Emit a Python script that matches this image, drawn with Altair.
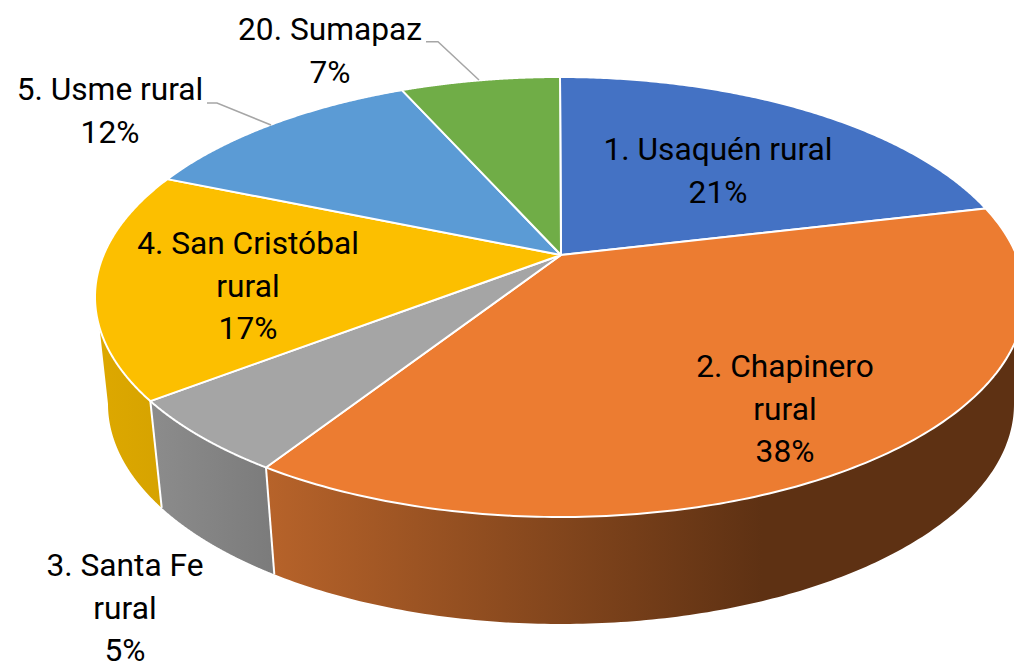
import math
import altair as alt

# ---- chart values ----
names = ["1. Usaquén rural", "2. Chapinero\nrural", "3. Santa Fe\nrural",
         "4. San Cristóbal\nrural", "5. Usme rural", "20. Sumapaz"]
shown = ["21%", "38%", "5%", "17%", "12%", "7%"]
shares = [21.3, 37.8, 5.49, 16.7, 12.05, 6.66]
top_colors = ["#4472C4", "#EC7C31", "#A5A5A5", "#FCBF00", "#5B9BD5", "#70AD47"]

# ---- layout of the tilted pie, in picture pixels ----
CX, CY, RX, RY = 560.0, 297.0, 465.0, 220.0     # rim of the top face
AX, AY = 561.0, 255.0                            # apex of the slices
LX, LY, LRX, LRY = 561.0, 404.0, 453.0, 220.0    # rim of the base
VX, VY = 561.0, 4250.0                           # vanishing point of the wall
K = 0.825                                        # perspective compression
SIL_RIGHT, SIL_LEFT = 100.0, 262.0               # silhouette angles, top rim
SIL_LOW_RIGHT, SIL_LOW_LEFT = 90.0, 270.0        # silhouette angles, base rim

label_pos = {0: (718, 150), 1: (785, 367), 2: (125, 566),
             3: (248, 244), 4: (110, 90), 5: (330, 30)}
leaders = [[(426, 41.7), (438, 41.7), (479, 80)],
           [(207, 103), (217, 103), (271, 125)]]


def persp(theta):
    h = math.radians(theta) / 2
    return math.degrees(2 * math.atan2(K * math.sin(h), math.cos(h)))


def top_pt(phi):
    a = math.radians(phi)
    return (CX + RX * math.sin(a), CY - RY * math.cos(a))


def base_pt(psi):
    a = math.radians(psi)
    return (LX + LRX * math.sin(a), LY - LRY * math.cos(a))


def low_pt(phi):
    px, py = top_pt(phi)
    dx, dy = VX - px, VY - py
    ex, ey = (px - LX) / LRX, (py - LY) / LRY
    fx, fy = dx / LRX, dy / LRY
    a = fx * fx + fy * fy
    b = 2 * (ex * fx + ey * fy)
    c = ex * ex + ey * ey - 1
    t = (-b + math.sqrt(max(b * b - 4 * a * c, 0))) / (2 * a)
    return (px + t * dx, py + t * dy)


def base_angle(phi):
    x, y = low_pt(phi)
    return math.degrees(math.atan2((x - LX) / LRX, -(y - LY) / LRY)) % 360


def arc(fn, a0, a1, n=160):
    return [list(fn(a0 + (a1 - a0) * i / n)) for i in range(n + 1)]


def poly(points, **props):
    return {"type": "Feature", "properties": props,
            "geometry": {"type": "Polygon", "coordinates": [points + [points[0]]]}}


def line(points, **props):
    return {"type": "Feature", "properties": props,
            "geometry": {"type": "LineString", "coordinates": [list(p) for p in points]}}


def wall(a0, a1, b0, b1):
    return poly(arc(top_pt, a0, a1) + arc(base_pt, b1, b0))


def collection(features):
    return alt.InlineData(values={"type": "FeatureCollection", "features": features},
                          format=alt.DataFormat(property="features"))


# slice boundaries
edges = [0.0]
for s in shares:
    edges.append(edges[-1] + s)
total = edges[-1]
angles = [persp(360.0 * e / total) for e in edges]
angles[-1] = 360.0

top_faces = [
    poly([[AX, AY]] + arc(top_pt, angles[i], angles[i + 1]), fill=top_colors[i])
    for i in range(len(shares))
]
# picture pixels become chart pixels by removing the page margin; the two
# precisions differ so each layer keeps this exact mapping instead of a merged, fitted one
proj = dict(type="identity", scale=1, translate=[-8, -8])
proj_labels = dict(type="identity", scale=1, translate=[-8, -8], precision=0.5)


def grad(stops):
    return alt.Gradient(gradient="linear", x1=0, x2=1, y1=0, y2=0,
                        stops=[alt.GradientStop(offset=o, color=c) for o, c in stops])


def wall_layer(feature, stops):
    return alt.Chart(collection([feature])).mark_geoshape(
        fill=grad(stops), strokeWidth=0, stroke="transparent").project(**proj)


wall_orange = wall_layer(wall(SIL_RIGHT, angles[2], SIL_LOW_RIGHT, base_angle(angles[2])),
                         [(0, "#B7632A"), (0.66, "#5E3113"), (1, "#5E3113")])
wall_gray = wall_layer(wall(angles[2], angles[3], base_angle(angles[2]), base_angle(angles[3])),
                       [(0, "#8C8C8C"), (1, "#7B7B7B")])
wall_yellow = wall_layer(wall(angles[3], SIL_LEFT, base_angle(angles[3]), SIL_LOW_LEFT),
                         [(0, "#DDA800"), (1, "#D6A300")])

seams = alt.Chart(collection([
    line([top_pt(angles[2]), low_pt(angles[2])]),
    line([top_pt(angles[3]), low_pt(angles[3])]),
])).mark_geoshape(filled=False, stroke="white", strokeWidth=2).project(**proj)

faces = alt.Chart(collection(top_faces)).mark_geoshape(
    stroke="white", strokeWidth=2, strokeJoin="round"
).encode(fill=alt.Fill("properties.fill:N", scale=None)).project(**proj)

leader_lines = alt.Chart(collection([line(l) for l in leaders])).mark_geoshape(
    filled=False, stroke="#A6A6A6", strokeWidth=1.5).project(**proj)

label_rows = [
    {"label": names[i] + "\n" + shown[i], "x": label_pos[i][0], "y": label_pos[i][1]}
    for i in range(len(names))
]
labels = alt.Chart(alt.Data(values=label_rows)).mark_text(
    font="Roboto", fontSize=31.7, color="black", align="center",
    baseline="middle", lineBreak="\n", lineHeight=42.6
).encode(longitude="x:Q", latitude="y:Q", text="label:N").project(**proj_labels)

chart = alt.layer(wall_orange, wall_gray, wall_yellow, seams, faces, leader_lines, labels).properties(
    width=1006, height=660, padding=0, background="white",
    autosize=alt.AutoSizeParams(type="none")
).configure_view(stroke=None)

chart.save("out.html", embed_options={"renderer": "svg", "actions": False})
